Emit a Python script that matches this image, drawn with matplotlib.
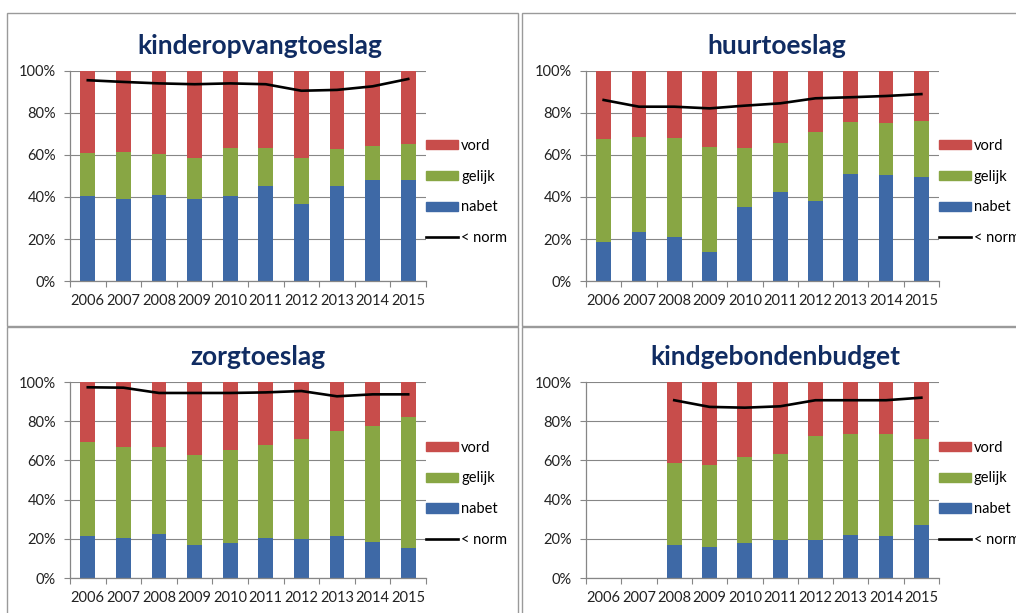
import numpy as np
import matplotlib.pyplot as plt
from matplotlib.patches import Rectangle
from matplotlib.lines import Line2D
from matplotlib.patches import Patch

plt.rcParams['font.family'] = ['Lato', 'DejaVu Sans']

years = ["2006", "2007", "2008", "2009", "2010", "2011", "2012", "2013", "2014", "2015"]
series_names = ["vord", "gelijk", "nabet", "< norm"]

# values in %; *_top is the top of the green segment
titles = ["kinderopvangtoeslag", "huurtoeslag", "zorgtoeslag", "kindgebondenbudget"]

kot_nabet = [40.5, 38.9, 41.0, 38.9, 40.5, 45.4, 36.8, 45.4, 48.1, 48.1]
kot_top = [60.8, 61.6, 60.5, 58.4, 63.2, 63.2, 58.4, 62.7, 64.4, 65.2]
kot_norm = [95.6, 94.8, 94.1, 93.7, 94.1, 93.7, 90.6, 91.0, 92.7, 96.2]

ht_nabet = [18.7, 23.5, 21.1, 14.0, 35.4, 42.5, 38.1, 51.0, 50.5, 49.7]
ht_top = [67.5, 68.7, 67.9, 64.0, 63.2, 65.9, 71.1, 75.9, 75.1, 76.2]
ht_norm = [86.2, 83.0, 83.0, 82.2, 83.5, 84.6, 87.0, 87.5, 88.1, 89.0]

zt_nabet = [21.2, 20.3, 22.4, 16.6, 18.1, 20.3, 19.8, 21.2, 18.3, 15.3]
zt_top = [69.5, 66.9, 66.6, 62.7, 65.3, 67.8, 70.7, 75.1, 77.6, 82.2]
zt_norm = [97.3, 97.1, 94.4, 94.4, 94.4, 94.7, 95.4, 92.7, 93.7, 93.7]

kgb_nabet = [np.nan, np.nan, 16.6, 15.6, 17.8, 19.5, 19.5, 22.0, 21.2, 26.8]
kgb_top = [np.nan, np.nan, 58.5, 57.6, 61.5, 63.1, 72.4, 73.4, 73.4, 70.7]
kgb_norm = [np.nan, np.nan, 90.7, 87.3, 86.9, 87.6, 90.7, 90.7, 90.7, 92.0]

panels = [
    (kot_nabet, kot_top, kot_norm),
    (ht_nabet, ht_top, ht_norm),
    (zt_nabet, zt_top, zt_norm),
    (kgb_nabet, kgb_top, kgb_norm),
]

c_red = "#C84D4B"
c_green = "#88A644"
c_blue = "#3E69A6"
c_axis = "#868686"
c_title = "#102C62"

W, H = 1016, 613
fig = plt.figure(figsize=(W / 100, H / 100), dpi=100)

def fx(px):
    return px / W

def fy(py):
    return 1 - py / H

# panel frames (pixel boxes)
for (x0, y0, x1, y1) in [(7, 13, 518, 326), (522, 13, 1030, 326),
                         (7, 327, 518, 640), (522, 327, 1030, 640)]:
    fig.patches.append(Rectangle((fx(x0), fy(y1)), fx(x1 - x0), (y1 - y0) / H,
                                 transform=fig.transFigure, fill=False,
                                 edgecolor="#9a9a9a", lw=1.0))

# axes boxes: left, right, top, bottom in pixels
boxes = [(70, 426, 71, 281), (586, 939, 71, 281),
         (70, 426, 382, 578), (586, 939, 382, 578)]
title_pos = [(260, 46), (777, 46), (258, 357), (775, 357)]

x = np.arange(len(years))
for i, (nabet, top, norm) in enumerate(panels):
    l, r, t, b = boxes[i]
    ax = fig.add_axes([fx(l), fy(b), (r - l) / W, (b - t) / H])
    nabet = np.array(nabet)
    top = np.array(top)
    gelijk = top - nabet
    vord = 100 - top
    bw = 0.42
    ax.bar(x, nabet, bw, color=c_blue, zorder=2)
    ax.bar(x, gelijk, bw, bottom=nabet, color=c_green, zorder=2)
    ax.bar(x, vord, bw, bottom=top, color=c_red, zorder=2)
    ax.plot(x, norm, color="black", lw=1.9, zorder=3)

    ax.set_xlim(-0.5, len(years) - 0.5)
    ax.set_ylim(0, 100)
    ax.set_yticks(np.arange(0, 101, 20))
    ax.set_yticklabels([f"{v}%" for v in range(0, 101, 20)], fontsize=10.5, color="#222222")
    ax.set_xticks(np.arange(-0.5, len(years), 1))
    ax.set_xticklabels([])
    ax.set_xticks(x, minor=True)
    ax.set_xticklabels(years, minor=True, fontsize=10.5, color="#222222")
    ax.tick_params(axis="x", which="major", length=4, color=c_axis, direction="out")
    ax.tick_params(axis="x", which="minor", length=0, pad=9)
    ax.tick_params(axis="y", length=4, color=c_axis, pad=6)
    ax.grid(axis="y", color=c_axis, lw=0.8, zorder=0)
    ax.set_axisbelow(True)
    for s in ["top", "right"]:
        ax.spines[s].set_visible(False)
    for s in ["left", "bottom"]:
        ax.spines[s].set_color(c_axis)
        ax.spines[s].set_linewidth(0.9)

    handles = [Patch(color=c_red), Patch(color=c_green), Patch(color=c_blue),
               Line2D([], [], color="black", lw=1.9)]
    yc = 0.424 if i < 2 else 0.43
    ax.legend(handles, series_names, loc="center left", bbox_to_anchor=(1.0, yc),
              frameon=False, fontsize=10.5, handlelength=2.2, handleheight=0.6,
              handletextpad=0.2, labelspacing=1.15, borderpad=0, borderaxespad=0)

    tx, ty = title_pos[i]
    fig.text(fx(tx), fy(ty), titles[i], ha="center", va="center", fontsize=19,
             fontweight="bold", color=c_title)

fig.savefig("out.png", dpi=100)
